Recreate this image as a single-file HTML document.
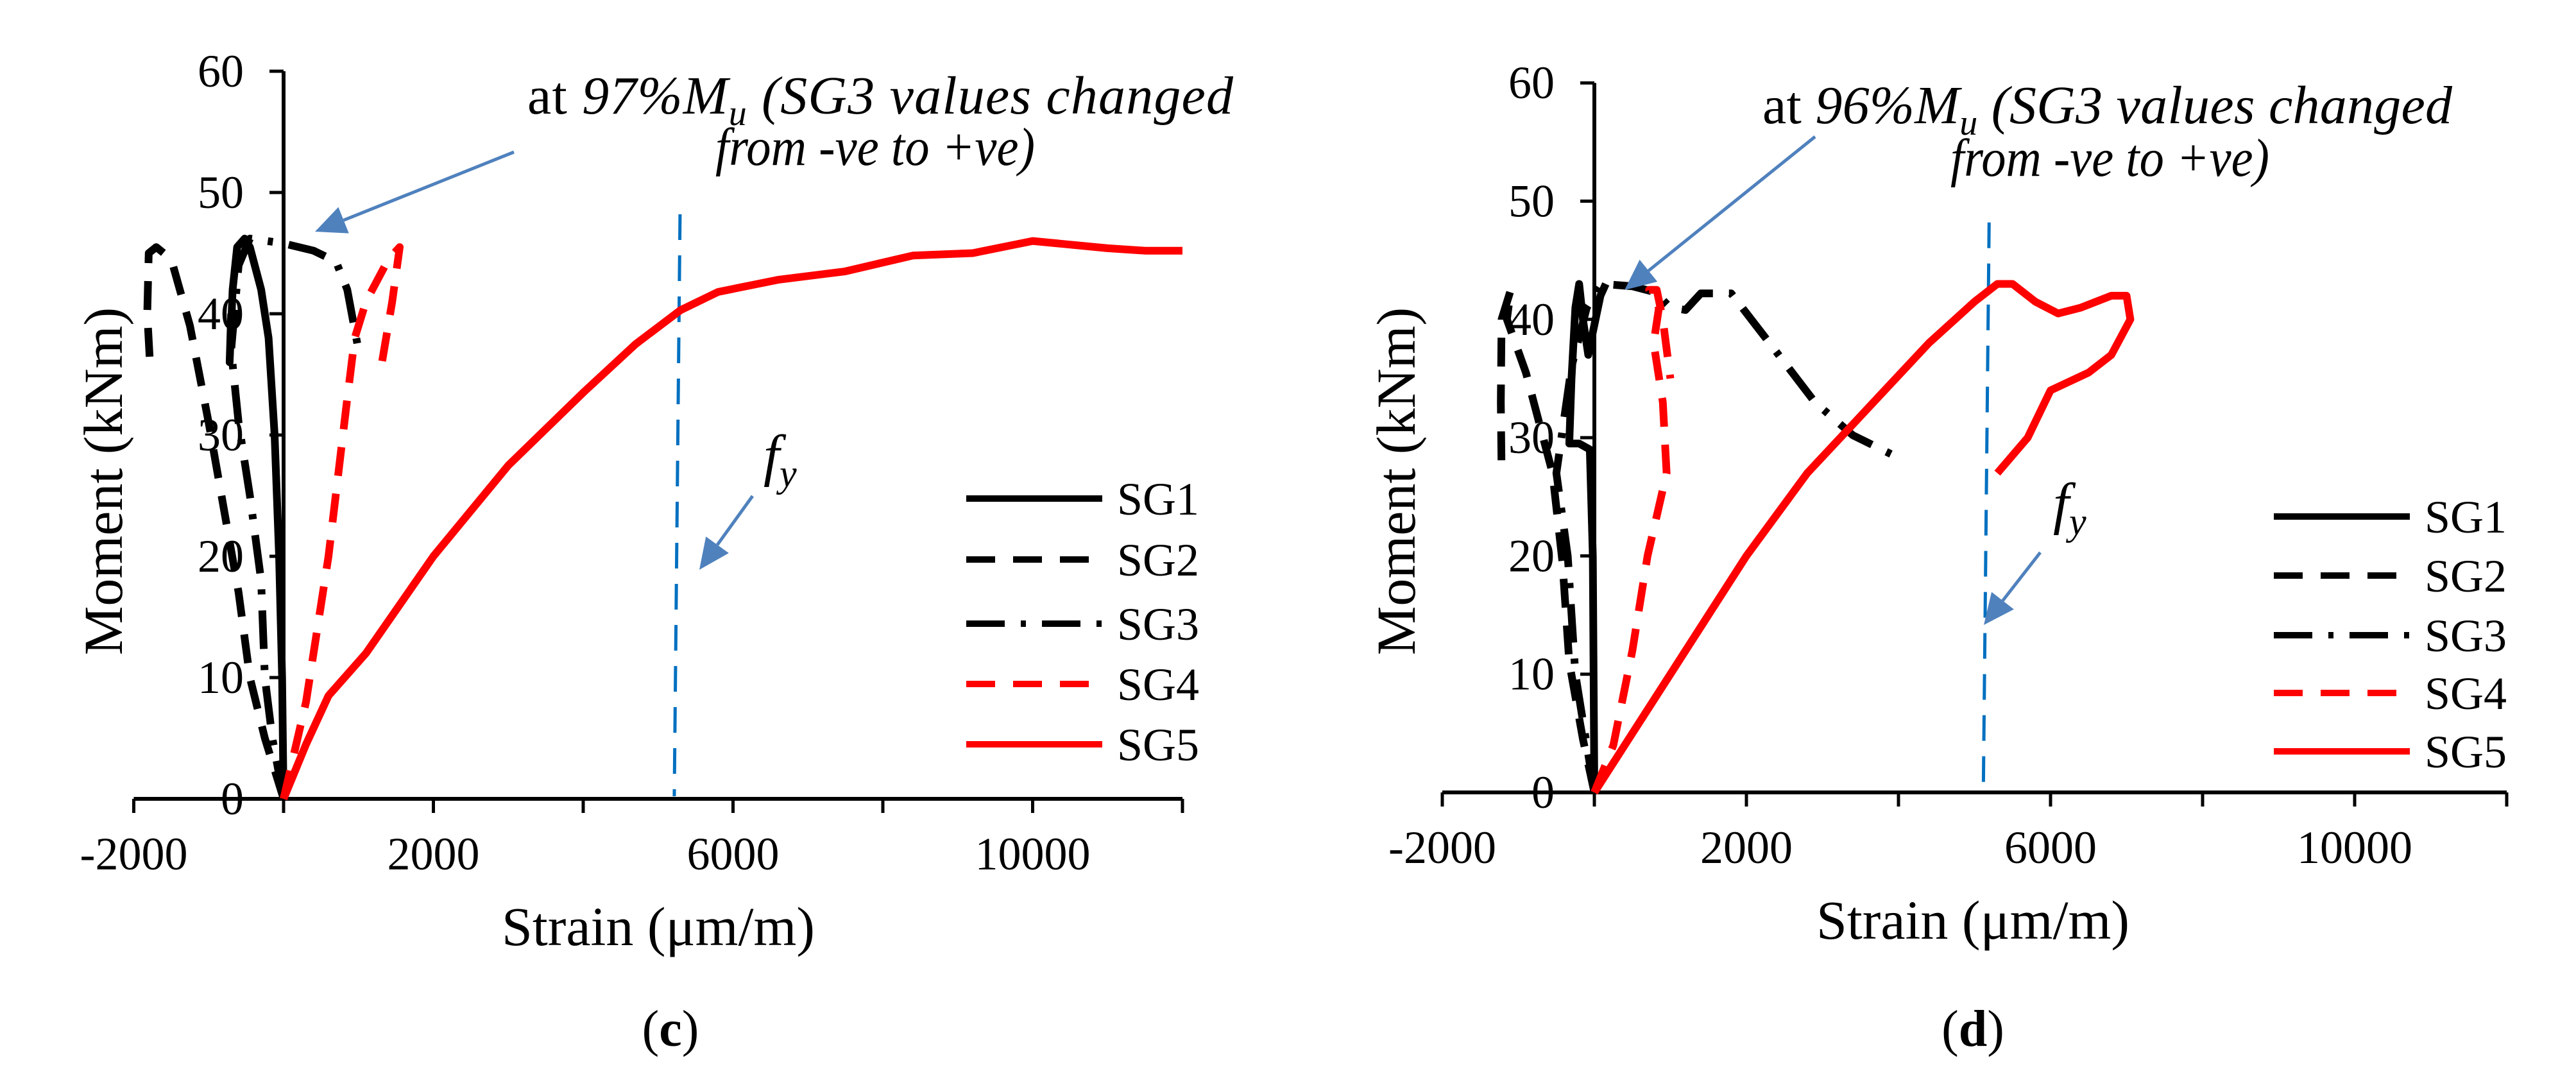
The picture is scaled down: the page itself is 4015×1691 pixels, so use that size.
<!DOCTYPE html>
<html><head><meta charset="utf-8">
<style>
html,body{margin:0;padding:0;background:#fff;}
svg{display:block;}
text,tspan{font-family:"Liberation Serif",serif;fill:#000;}
</style></head>
<body>
<svg id="fig" width="4015" height="1691" viewBox="0 0 4015 1691" xmlns="http://www.w3.org/2000/svg"></svg>
<script>
// ---------- shared axis data ----------
const xTickValues = [-2000, 0, 2000, 4000, 6000, 8000, 10000, 12000];
const xTickLabels = ["-2000", "2000", "6000", "10000"];
const xLabelValues = [-2000, 2000, 6000, 10000];
const yTickValues = [0, 10, 20, 30, 40, 50, 60];
const seriesNames = ["SG1", "SG2", "SG3", "SG4", "SG5"];

// ---------- panel (c) data ----------
const cSG1x = [0, -20, -60, -120, -200, -300, -450, -520, -620, -680, -720, -700];
const cSG1y = [0, 10, 20, 30, 38, 42, 45.5, 46.2, 45.5, 42, 36, 40];
const cSG2x = [0, -250, -450, -600, -800, -1000, -1250, -1500, -1700, -1800, -1820, -1780];
const cSG2y = [0, 5, 10, 17, 24, 31, 39, 44.5, 45.5, 45, 40, 35.5];
const cSG3x = [0, -150, -250, -300, -450, -600, -700, -600, -450, 0, 400, 700, 850, 1000];
const cSG3y = [0, 5, 10, 18, 25, 31, 37, 44, 46.2, 45.8, 45.2, 44.3, 42, 37];
const cSG4x = [0, 300, 600, 850, 950, 1100, 1400, 1550, 1450, 1300];
const cSG4y = [0, 8, 20, 33, 38, 41, 44.5, 45.5, 41, 35.5];
const cSG5x = [0, 300, 600, 1100, 2000, 3000, 4000, 4700, 5300, 5800, 6600, 7500, 8400, 9200, 10000, 11000, 11500, 12000];
const cSG5y = [0, 4.5, 8.5, 12, 20, 27.5, 33.5, 37.5, 40.3, 41.8, 42.8, 43.5, 44.8, 45, 46, 45.4, 45.2, 45.2];
const cFy = 5250;

// ---------- panel (d) data ----------
const dSG1x = [0, -20, -60, -200, -330, -300, -250, -200, -150, -80, -50, 80, 150];
const dSG1y = [0, 20, 29, 29.5, 29.5, 35, 41, 43, 40, 37, 38, 42, 43];
const dSG2x = [0, -150, -330, -420, -550, -900, -1150, -1100, -1220, -1230, -1220];
const dSG2y = [0, 4.5, 11, 19.5, 27, 35.5, 40, 42.5, 40, 33, 27];
const dSG3x = [0, -100, -250, -350, -500, -300, -100, 100, 500, 800, 1000, 1200, 1400, 1800, 2400, 2900, 3400, 4000];
const dSG3y = [0, 4, 10, 20, 27, 36, 41, 43, 42.8, 42.3, 41, 40.8, 42.2, 42.2, 37.2, 33, 30.2, 28.3];
const dSG4x = [0, 250, 500, 700, 950, 900, 780, 850, 720, 820, 900, 1000];
const dSG4y = [0, 4, 12, 20, 27, 33, 38, 41, 42.5, 42.5, 40, 35];
const dSG5x = [0, 1000, 2000, 2800, 3600, 4400, 5000, 5300, 5500, 5800, 6100, 6400, 6800, 7000, 7050, 6800, 6500, 6000, 5700, 5300];
const dSG5y = [0, 10, 20, 27, 32.5, 38, 41.5, 43, 43, 41.5, 40.5, 41, 42, 42, 40, 37, 35.5, 34, 30, 27];
const dFy = 5150;

const NS = "http://www.w3.org/2000/svg";
const svg = document.getElementById("fig");
function mk(tag, attrs, parent) {
  const e = document.createElementNS(NS, tag);
  for (const k in attrs) e.setAttribute(k, attrs[k]);
  (parent || svg).appendChild(e);
  return e;
}
function tsp(parent, txt, attrs) {
  const t = mk("tspan", attrs || {}, parent);
  t.textContent = txt;
  return t;
}

const styles = [
  {stroke: "#000", dash: ""},
  {stroke: "#000", dash: "45 28"},
  {stroke: "#000", dash: "60 25 8 25"},
  {stroke: "#ff0000", dash: "45 28"},
  {stroke: "#ff0000", dash: ""}
];
const FF = '"Liberation Serif", serif';

function drawPanel(p) {
  const g = mk("g", {});
  
  
  const sx = v => p.x0 + v / 4000 * p.px4000;
  const sy = v => p.y0 - v / 10 * p.px10;

  const xa = mk("line", {x1: sx(-2000), y1: p.y0, x2: sx(12000), y2: p.y0, stroke: "#000", "stroke-width": 6}, g);
  
  
  const ya = mk("line", {x1: p.x0, y1: p.y0 + 3, x2: p.x0, y2: sy(60), stroke: "#000", "stroke-width": 6}, g);
  
  
  xTickValues.forEach(v => {
    const t = mk("line", {x1: sx(v), y1: p.y0, x2: sx(v), y2: p.y0 + 22, stroke: "#000", "stroke-width": 5}, g);
    
    
  });
  xLabelValues.forEach((v, i) => {
    const t = mk("text", {x: sx(v), y: p.y0 + 110, "font-size": 72, "text-anchor": "middle", "font-family": FF}, g);
    t.textContent = xTickLabels[i];
    
    
  });
  yTickValues.forEach(v => {
    const t = mk("line", {x1: p.x0 - 22, y1: sy(v), x2: p.x0, y2: sy(v), stroke: "#000", "stroke-width": 5}, g);
    
    
    const l = mk("text", {x: p.x0 - 62, y: sy(v) + 24, "font-size": 72, "text-anchor": "end", "font-family": FF}, g);
    l.textContent = String(v);
    
    
  });
  const xt = mk("text", {x: p.xTitleX, y: p.y0 + 228, "font-size": 86, "text-anchor": "middle", "font-family": FF}, g);
  xt.textContent = "Strain (μm/m)";
  
  
  const yt = mk("text", {x: 0, y: 0, "font-size": 86, "text-anchor": "middle", "font-family": FF, transform: "translate(" + p.yTitleX + "," + p.yTitleY + ") rotate(-90)"}, g);
  yt.textContent = "Moment (kNm)";
  
  

  const fl = mk("line", {x1: sx(p.fy) + 5, y1: sy(48.2), x2: sx(p.fy) - 4, y2: p.y0 - 4, stroke: "#0070c0", "stroke-width": 5, "stroke-dasharray": "40 24"}, g);
  
  

  p.series.forEach((s, i) => {
    const pts = s[0].map((xv, j) => sx(xv).toFixed(1) + "," + sy(s[1][j]).toFixed(1)).join(" ");
    const attrs = {points: pts, fill: "none", stroke: styles[i].stroke, "stroke-width": 12, "stroke-linejoin": "round"};
    if (styles[i].dash) attrs["stroke-dasharray"] = styles[i].dash;
    const pl = mk("polyline", attrs, g);
    
    
  });

  const lg = mk("g", {}, g);
  
  
  seriesNames.forEach((n, i) => {
    const yy = p.legY[i];
    const la = {x1: p.legX, y1: yy, x2: p.legX + 212, y2: yy, stroke: styles[i].stroke, "stroke-width": 10};
    if (styles[i].dash) la["stroke-dasharray"] = styles[i].dash;
    const l = mk("line", la, lg);
    
    
    const t = mk("text", {x: p.legX + 235, y: yy + 25, "font-size": 72, "font-family": FF}, lg);
    t.textContent = n;
    
    
  });

  const an = mk("text", {x: p.annX1, y: p.annY1, "font-size": 84, "font-family": FF, textLength: p.annW1, lengthAdjust: "spacing"}, g);
  
  
  tsp(an, "at  ");
  tsp(an, p.pct + "%M", {"font-style": "italic"});
  tsp(an, "u", {"font-style": "italic", "font-size": 56, dy: 18});
  tsp(an, "  (SG3  values  changed", {"font-style": "italic", dy: -18});
  const an2 = mk("text", {x: p.annX2, y: p.annY2, "font-size": 84, "font-style": "italic", "font-family": FF, textLength: p.annW2, lengthAdjust: "spacingAndGlyphs"}, g);
  an2.textContent = "from -ve to +ve)";
  
  

  [[p.arr1, 'annotation-arrow'], [p.arr2, 'fy-arrow']].forEach(([a, nm]) => {
    const [x1, y1, x2, y2] = a;
    const ang = Math.atan2(y2 - y1, x2 - x1);
    const L = 48, W = 22;
    const bx = x2 - L * Math.cos(ang), by = y2 - L * Math.sin(ang);
    const ag = mk("g", {}, g);
    
    
    mk("line", {x1: x1, y1: y1, x2: bx, y2: by, stroke: "#4f81bd", "stroke-width": 5}, ag);
    mk("polygon", {points: x2 + "," + y2 + " " + (bx + W * Math.sin(ang)) + "," + (by - W * Math.cos(ang)) + " " + (bx - W * Math.sin(ang)) + "," + (by + W * Math.cos(ang)), fill: "#4f81bd"}, ag);
  });
  const fy = mk("text", {x: p.fyX, y: p.fyY, "font-size": 90, "font-style": "italic", "font-family": FF}, g);
  tsp(fy, "f");
  tsp(fy, "y", {"font-size": 60, dy: 18});
  
  

  const cap = mk("text", {x: p.capX, y: 1630, "font-size": 80, "text-anchor": "middle", "font-family": FF}, g);
  tsp(cap, "(");
  tsp(cap, p.cap, {"font-weight": "bold"});
  tsp(cap, ")");
  
  
}

drawPanel({
  name: "panel-c", x0: 442, y0: 1245, px4000: 467, px10: 189,
  series: [[cSG1x, cSG1y], [cSG2x, cSG2y], [cSG3x, cSG3y], [cSG4x, cSG4y], [cSG5x, cSG5y]],
  fy: cFy, xTitleX: 1026, yTitleX: 190, yTitleY: 750,
  legX: 1506, legY: [777, 872, 972, 1066, 1160],
  pct: 97, annX1: 822, annY1: 177, annW1: 1100, annX2: 1115, annY2: 257, annW2: 498,
  arr1: [801, 237, 491, 361], arr2: [1173, 773, 1090, 888], fyX: 1190, fyY: 740,
  capX: 1045, cap: "c"
});
drawPanel({
  name: "panel-d", x0: 2485, y0: 1235, px4000: 474, px10: 184.3,
  series: [[dSG1x, dSG1y], [dSG2x, dSG2y], [dSG3x, dSG3y], [dSG4x, dSG4y], [dSG5x, dSG5y]],
  fy: dFy, xTitleX: 3075, yTitleX: 2205, yTitleY: 750,
  legX: 3544, legY: [805, 897, 990, 1080, 1171],
  pct: 96, annX1: 2747, annY1: 192, annW1: 1075, annX2: 3040, annY2: 274, annW2: 497,
  arr1: [2829, 213, 2532, 452], arr2: [3180, 861, 3092, 974], fyX: 3200, fyY: 815,
  capX: 3075, cap: "d"
});
</script>
</body></html>
